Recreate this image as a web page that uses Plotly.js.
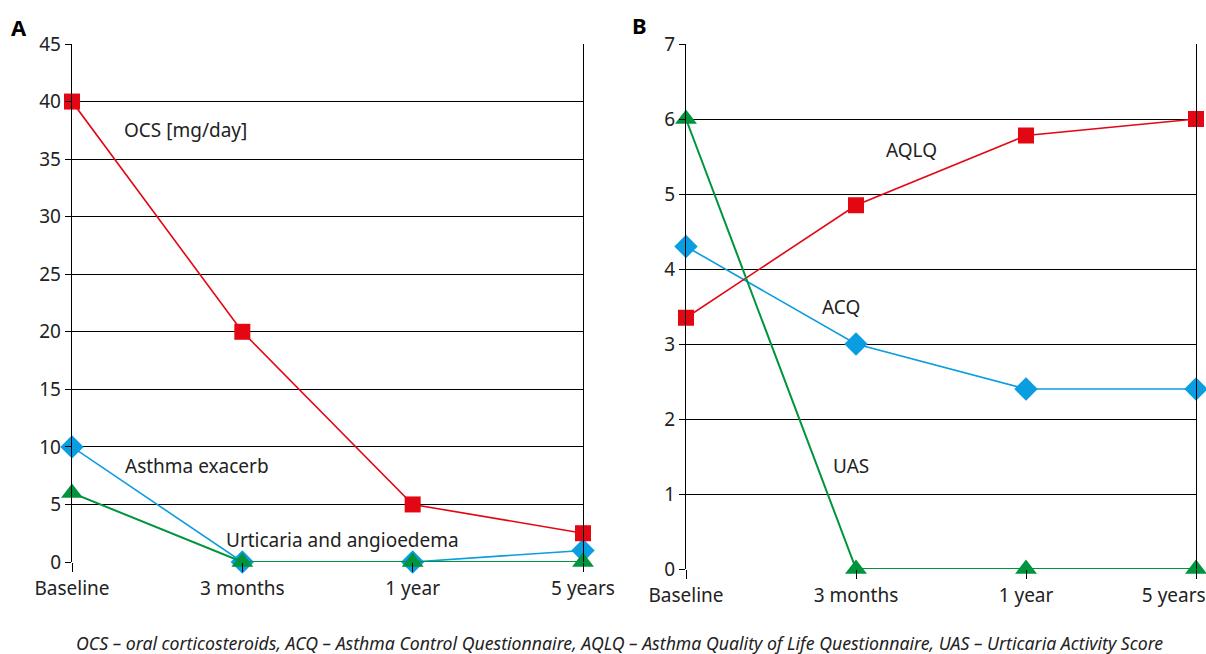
<!DOCTYPE html>
<html><head><meta charset="utf-8">
<script src="https://cdn.plot.ly/plotly-3.0.1.min.js"></script>
<style>html,body{margin:0;padding:0;background:#fff}#chart{width:1206px;height:654px}</style>
</head><body><div id="chart"></div>
<script>
const categories = ["Baseline", "3 months", "1 year", "5 years"];
const ocs = [40, 20, 5, 2.5];
const asthmaExacerb = [10, 0, 0, 1];
const urticaria = [6, 0, 0, 0];
const aqlq = [3.35, 4.85, 5.78, 6.0];
const acq = [4.3, 3.0, 2.4, 2.4];
const uas = [6, 0, 0, 0];
const yTicksA = [0, 5, 10, 15, 20, 25, 30, 35, 40, 45];
const yTicksB = [0, 1, 2, 3, 4, 5, 6, 7];
const xLabelsB = ["Baseline", "3 months", "1 year", "5 years&nbsp;&nbsp;&nbsp;&nbsp;&nbsp;&nbsp;&nbsp;&nbsp;&nbsp;"];

const RED = "#e30613", BLUE = "#0a9de0", GREEN = "#00943d";
const FONT = "Noto Sans";

function tr(y, color, sym, xa, ya, size, w) {
  return {x: categories, y: y, xaxis: xa, yaxis: ya, type: "scatter", mode: "lines+markers",
    line: {color: color, width: w || 1.6}, marker: {color: color, symbol: sym, size: size},
    cliponaxis: false, hoverinfo: "skip"};
}
const data = [
  tr(asthmaExacerb, BLUE, "diamond", "x", "y", 18),
  tr(urticaria, GREEN, "triangle-up", "x", "y", 19, 2),
  tr(ocs, RED, "square", "x", "y", 16),
  tr(acq, BLUE, "diamond", "x2", "y2", 18),
  tr(aqlq, RED, "square", "x2", "y2", 16),
  tr(uas, GREEN, "triangle-up", "x2", "y2", 19, 2)
];
const xCommon = {type: "category", range: [0, 3], showgrid: false, zeroline: false,
  showline: false, ticks: "outside", ticklen: 9, tickcolor: "#000", tickwidth: 1,
  tickfont: {family: FONT, size: 19, color: "#222"}, fixedrange: true};
const yCommon = {showgrid: true, gridcolor: "#000", gridwidth: 1, zeroline: false,
  showline: true, linecolor: "#000", linewidth: 1.2, mirror: true,
  ticks: "outside", ticklen: 6, tickcolor: "#000",
  tickfont: {family: FONT, size: 19, color: "#222"}, fixedrange: true};
const annFont = {family: FONT, size: 19, color: "#222"};
function lab(text, x, y) {
  return {text: text, xref: "paper", yref: "paper", x: x/1206, y: 1 - y/654, xanchor: "left", yanchor: "middle", showarrow: false, font: annFont};
}
const layout = {
  width: 1206, height: 654, margin: {l: 0, r: 0, t: 0, b: 0},
  paper_bgcolor: "#fff", plot_bgcolor: "#fff", showlegend: false,
  font: {family: FONT, color: "#222"},
  xaxis: Object.assign({}, xCommon, {domain: [72/1206, 583/1206], anchor: "y"}),
  yaxis: Object.assign({}, yCommon, {domain: [1 - 562/654, 1 - 44/654], range: [0, 45],
    tickvals: yTicksA, anchor: "x"}),
  xaxis2: Object.assign({}, xCommon, {domain: [686/1206, 1196/1206], anchor: "y2",
    tickmode: "array", tickvals: categories, ticktext: xLabelsB}),
  yaxis2: Object.assign({}, yCommon, {domain: [1 - 569/654, 1 - 44/654], range: [0, 7],
    tickvals: yTicksB, anchor: "x2"}),
  annotations: [
    {text: "<b>A</b>", xref: "paper", yref: "paper", x: 9/1206, y: 1 - 27/654, xanchor: "left", yanchor: "middle", showarrow: false, font: {family: FONT, size: 22, color: "#000"}},
    {text: "<b>B</b>", xref: "paper", yref: "paper", x: 630/1206, y: 1 - 25/654, xanchor: "left", yanchor: "middle", showarrow: false, font: {family: FONT, size: 22, color: "#000"}},
    lab("OCS [mg/day]", 122, 130),
    lab("Asthma exacerb", 123, 466),
    lab("Urticaria and angioedema", 224, 540),
    lab("AQLQ", 884, 150),
    lab("ACQ", 820, 307),
    lab("UAS", 831, 466),
    {text: "<i>OCS – oral corticosteroids, ACQ – Asthma Control Questionnaire, AQLQ – Asthma Quality of Life Questionnaire, UAS – Urticaria Activity Score</i>", xref: "paper", yref: "paper", x: 619/1206, y: 1 - 643/654, xanchor: "center", yanchor: "middle", showarrow: false, font: {family: FONT, size: 17.7, color: "#222"}}
  ]
};
Plotly.newPlot("chart", data, layout, {staticPlot: true, displayModeBar: false});
</script></body></html>
